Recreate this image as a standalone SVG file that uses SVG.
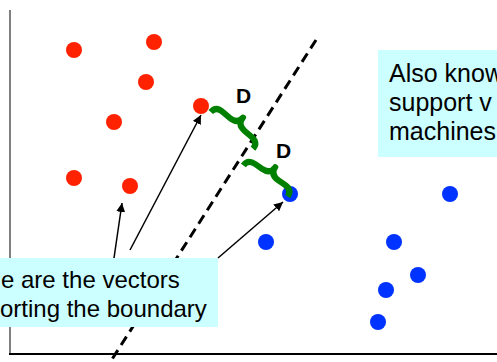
<svg xmlns="http://www.w3.org/2000/svg" width="497" height="362" viewBox="0 0 497 362">
<style>
.red{fill:#FF2200}
.blue{fill:#0033FF}
.box{fill:#CCFFFF}
.txt{font-family:"Liberation Sans",Arial,sans-serif;font-size:24px;fill:#000}
.big{font-size:25px}
.dlab{font-family:"Liberation Sans",Arial,sans-serif;font-size:21px;font-weight:bold;fill:#000}
.arrow{stroke:#000;stroke-width:1.5;fill:none;marker-end:url(#ah)}
.brace{stroke:#008000;stroke-width:6;fill:none;stroke-linecap:butt;stroke-linejoin:round}
</style>
<defs>
<marker id="ah" viewBox="0 0 10 10" refX="10" refY="5" markerWidth="6" markerHeight="6" markerUnits="strokeWidth" orient="auto">
<path d="M0,0 L10,5 L0,10 Z" fill="#000"/>
</marker>
</defs>
<rect width="497" height="362" fill="#fff"/>
<g id="axes">
<line x1="10" y1="10" x2="10" y2="354" stroke="#808080" stroke-width="2"/>
<line x1="9" y1="354" x2="497" y2="354" stroke="#000" stroke-width="2"/>
</g>
<g id="connectors">
<line id="boundary" x1="316" y1="40" x2="109" y2="364" stroke="#000" stroke-width="3" stroke-dasharray="10,6"/>
<line class="arrow" x1="114" y1="258" x2="122" y2="203"/>
<line class="arrow" x1="130" y1="250" x2="201" y2="115"/>
<line class="arrow" x1="218" y1="258" x2="283" y2="202"/>
</g>
<g id="red-points">
<circle class="red" cx="74" cy="50" r="8"/>
<circle class="red" cx="154" cy="42" r="8"/>
<circle class="red" cx="146" cy="82" r="8"/>
<circle class="red" cx="114" cy="122" r="8"/>
<circle id="sv-red" class="red" cx="201" cy="106" r="8"/>
<circle class="red" cx="74" cy="178" r="8"/>
<circle class="red" cx="130" cy="186" r="8"/>
</g>
<g id="blue-points">
<circle id="sv-blue" class="blue" cx="290" cy="194" r="8"/>
<circle class="blue" cx="450" cy="194" r="8"/>
<circle class="blue" cx="266" cy="242" r="8"/>
<circle class="blue" cx="394" cy="242" r="8"/>
<circle class="blue" cx="418" cy="275" r="8"/>
<circle class="blue" cx="386" cy="290" r="8"/>
<circle class="blue" cx="378" cy="322" r="8"/>
</g>
<g id="braces">
<path class="brace" transform="translate(216,106) rotate(41)" d="M0,8 Q0,0 9,0 L18,0 Q28,0 28,-9 Q28,0 38,0 L47,0 Q56,0 56,8"/>
<path class="brace" transform="translate(248,159) rotate(35)" d="M0,8 Q0,0 9,0 L17,0 Q27,0 27,-9 Q27,0 37,0 L45,0 Q54,0 54,8"/>
</g>
<g id="label-d1"><text class="dlab" x="236" y="103">D</text></g>
<g id="label-d2"><text class="dlab" x="276" y="158">D</text></g>
<g id="note-also">
<rect class="box" x="378" y="50" width="119" height="107"/>
<text class="txt big" x="389" y="82">Also know</text>
<text class="txt big" x="389" y="111">support v</text>
<text class="txt big" x="389" y="140">machines</text>
</g>
<g id="note-vectors">
<rect class="box" x="0" y="258" width="218" height="69"/>
<text class="txt" x="1" y="288">e are the vectors</text>
<text class="txt" x="0" y="317">orting the boundary</text>
</g>
</svg>
